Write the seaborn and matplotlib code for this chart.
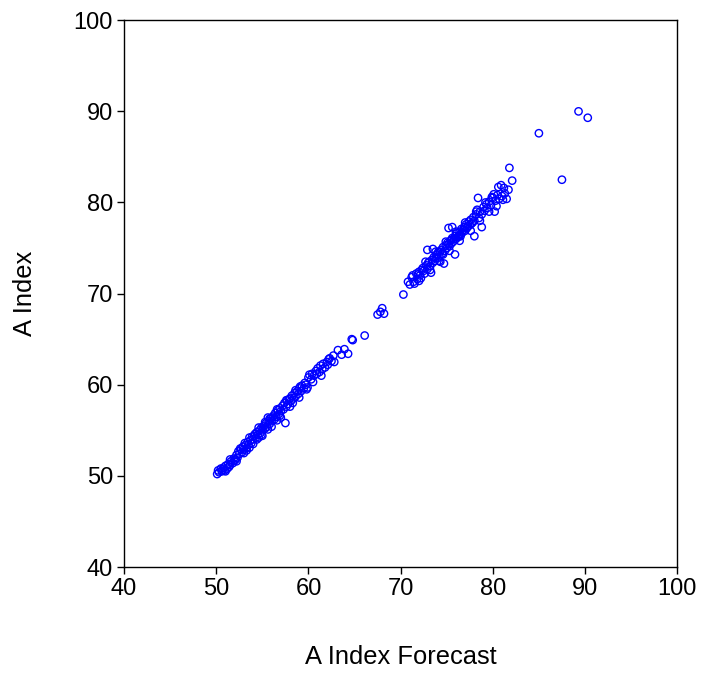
import numpy as np
import pandas as pd
import seaborn as sns
import matplotlib.pyplot as plt

forecast = [
    50.1, 50.2, 50.3, 50.5, 50.6, 50.8, 50.9, 51.0, 51.2, 51.3, 51.5, 51.6, 51.8, 51.9, 52.0,
    52.2, 52.3, 52.4, 52.5, 52.7, 52.8, 52.9, 53.0, 53.2, 53.3, 53.4, 53.5, 53.7, 53.8, 53.9,
    54.0, 54.2, 54.3, 54.4, 54.5, 54.7, 54.8, 54.9, 55.0, 55.2, 55.3, 55.4, 55.5, 55.7, 55.8,
    55.9, 56.0, 56.2, 56.3, 56.4, 56.5, 56.7, 56.8, 56.9, 57.0, 57.2, 57.3, 57.4, 57.5, 57.6,
    57.7, 57.8, 58.0, 58.1, 58.2, 58.4, 58.5, 58.6, 58.8, 58.9, 59.0, 59.2, 59.3, 59.5, 59.7,
    60.0, 60.1, 60.3, 60.5, 60.6, 60.8, 60.9, 61.0, 61.2, 61.3, 61.5, 61.6, 61.8, 62.0, 62.1,
    62.3, 62.5, 62.8, 63.2, 63.6, 63.9,
    53.1, 53.6, 54.1, 54.6, 55.1, 55.6, 56.1, 56.6, 52.1, 51.4, 50.7, 54.9, 55.8, 56.9, 57.9,
    58.3, 59.1, 59.8,
    51.5, 52.2, 52.6, 53.0, 53.6, 54.0, 54.6, 55.0, 55.6, 56.0, 56.6, 57.0, 57.6, 58.0, 58.6,
    59.0, 59.6, 59.9, 60.4, 61.4, 62.2, 62.7, 53.3, 55.3, 51.0, 54.4,
    64.3, 64.7, 64.8, 66.1, 67.5, 67.8, 68.0, 68.2, 70.3,
    70.8, 71.0, 71.2, 71.4, 71.5, 71.7, 71.8, 72.0, 72.1, 72.2, 72.4, 72.5, 72.6, 72.8, 72.9,
    72.9, 73.0, 73.2, 73.3, 73.4, 73.5, 73.6, 73.7, 73.9, 74.0, 74.1, 74.2, 74.3, 74.4, 74.5,
    74.6, 74.7, 74.8, 74.9, 75.0, 75.1, 75.2, 75.3, 75.4, 75.5, 75.6, 75.7, 75.9, 75.9, 76.0,
    76.1, 76.2, 76.4, 76.5, 76.6, 76.7, 76.9, 77.0, 77.1, 77.2, 77.4, 77.5, 77.6, 77.8, 77.9,
    78.0, 78.0, 78.2, 78.3, 78.4, 78.5, 78.6, 78.8, 78.8, 79.0, 79.1, 79.3, 79.4, 79.6, 79.8,
    80.0, 80.2, 80.3, 80.5, 80.6, 80.7, 80.9, 81.0, 81.1, 81.3, 81.7, 81.8, 82.1, 81.5,
    73.1, 73.8, 74.3, 75.2, 75.8, 76.3, 76.8, 77.3, 77.7, 74.6, 75.5, 76.5, 77.0, 72.3, 71.9,
    71.3, 72.0, 72.7, 73.2, 73.8, 74.2, 74.9, 75.3, 76.0, 76.4, 77.0, 77.6, 78.2, 78.6, 79.2,
    79.6, 80.1, 80.4, 81.2, 79.9, 75.6, 73.5,
    85.0, 87.5, 89.3, 90.3,
]
actual = [
    50.2, 50.6, 50.4, 50.8, 50.5, 50.9, 50.6, 51.1, 50.8, 51.3, 51.2, 51.6, 51.4, 51.9, 51.7,
    52.3, 52.0, 52.7, 52.4, 52.9, 52.6, 53.2, 52.9, 53.4, 53.1, 53.7, 53.4, 53.9, 53.6, 54.3,
    54.0, 54.6, 54.2, 54.8, 54.5, 55.0, 54.7, 55.3, 55.0, 55.5, 55.2, 55.8, 55.4, 56.0, 55.7,
    56.3, 56.0, 56.6, 56.2, 56.9, 56.5, 57.2, 56.8, 57.4, 57.1, 57.7, 57.3, 58.0, 55.8, 57.6,
    58.3, 57.9, 58.5, 58.2, 58.8, 58.5, 59.1, 58.7, 59.3, 59.0, 59.6, 59.3, 59.9, 59.6, 60.0,
    60.8, 61.1, 60.6, 60.3, 61.0, 61.5, 61.2, 61.8, 61.4, 62.1, 61.7, 62.3, 61.9, 62.5, 62.2,
    62.9, 62.6, 62.5, 63.8, 63.3, 63.9,
    53.6, 53.1, 54.4, 54.2, 55.4, 55.1, 56.4, 56.1, 51.8, 51.0, 50.7, 54.5, 56.3, 56.6, 58.4,
    58.0, 59.8, 59.5,
    51.8, 51.6, 53.0, 52.5, 54.2, 53.5, 55.3, 54.4, 56.4, 55.4, 57.3, 56.4, 58.3, 57.6, 59.4,
    58.6, 60.2, 59.7, 61.2, 61.0, 62.8, 63.2, 52.8, 55.9, 50.5, 54.0,
    63.4, 65.0, 64.9, 65.4, 67.7, 68.0, 68.4, 67.8, 69.9,
    71.3, 71.0, 71.8, 71.3, 71.1, 72.2, 71.6, 72.4, 72.0, 71.7, 72.8, 72.5, 72.2, 73.1, 74.8,
    72.7, 73.4, 73.0, 72.3, 73.7, 73.4, 74.0, 73.6, 74.3, 73.9, 74.6, 74.1, 73.5, 74.8, 74.4,
    75.1, 73.3, 74.7, 75.3, 75.0, 75.6, 77.2, 75.2, 75.8, 75.5, 76.1, 75.7, 74.3, 76.3, 76.0,
    76.6, 76.2, 76.8, 76.5, 77.1, 76.7, 77.3, 76.9, 77.6, 77.2, 77.9, 77.5, 78.1, 77.8, 78.4,
    76.3, 78.0, 78.7, 79.2, 80.5, 78.3, 79.0, 77.3, 78.7, 79.5, 79.1, 79.8, 79.4, 80.1, 79.7,
    80.5, 79.0, 80.2, 80.8, 81.7, 80.4, 81.9, 80.7, 80.3, 81.0, 81.4, 83.8, 82.4, 80.4,
    73.5, 73.9, 74.6, 75.4, 76.0, 76.4, 77.0, 77.4, 77.7, 74.3, 75.9, 76.3, 77.3, 72.6, 72.1,
    72.0, 71.4, 73.5, 72.6, 74.6, 73.6, 75.7, 74.7, 76.8, 75.8, 77.8, 76.9, 79.0, 78.0, 80.0,
    79.0, 80.9, 79.6, 81.6, 80.6, 77.3, 74.9,
    87.6, 82.5, 90.0, 89.3,
]

df = pd.DataFrame({'A Index Forecast': forecast, 'A Index': actual})

sns.set_style('white')
plt.rcParams['font.family'] = ['Liberation Sans', 'DejaVu Sans']
plt.rcParams['text.color'] = 'black'
plt.rcParams['axes.labelcolor'] = 'black'
plt.rcParams['xtick.color'] = 'black'
plt.rcParams['ytick.color'] = 'black'

fig = plt.figure(figsize=(7.01, 6.75), dpi=100)
ax = fig.add_axes([0.177, 0.16, 0.789, 0.81])
sns.scatterplot(data=df, x='A Index Forecast', y='A Index', ax=ax,
                marker='o', s=28, facecolor='none', edgecolor='#0000ff', linewidth=1.0)

ax.set_xlim(40, 100)
ax.set_ylim(40, 100)
ax.set_xticks(range(40, 101, 10))
ax.set_yticks(range(40, 101, 10))
for sp in ax.spines.values():
    sp.set_color('black')
    sp.set_linewidth(1.0)
ax.tick_params(axis='both', direction='out', length=5, width=1, color='black',
               labelcolor='black', labelsize=17, bottom=True, left=True,
               top=False, right=False, pad=3)
ax.set_xlabel('A Index Forecast', fontsize=18.4, labelpad=32)
ax.set_ylabel('A Index', fontsize=18.4, labelpad=26)

plt.savefig('out.png', dpi=100)
